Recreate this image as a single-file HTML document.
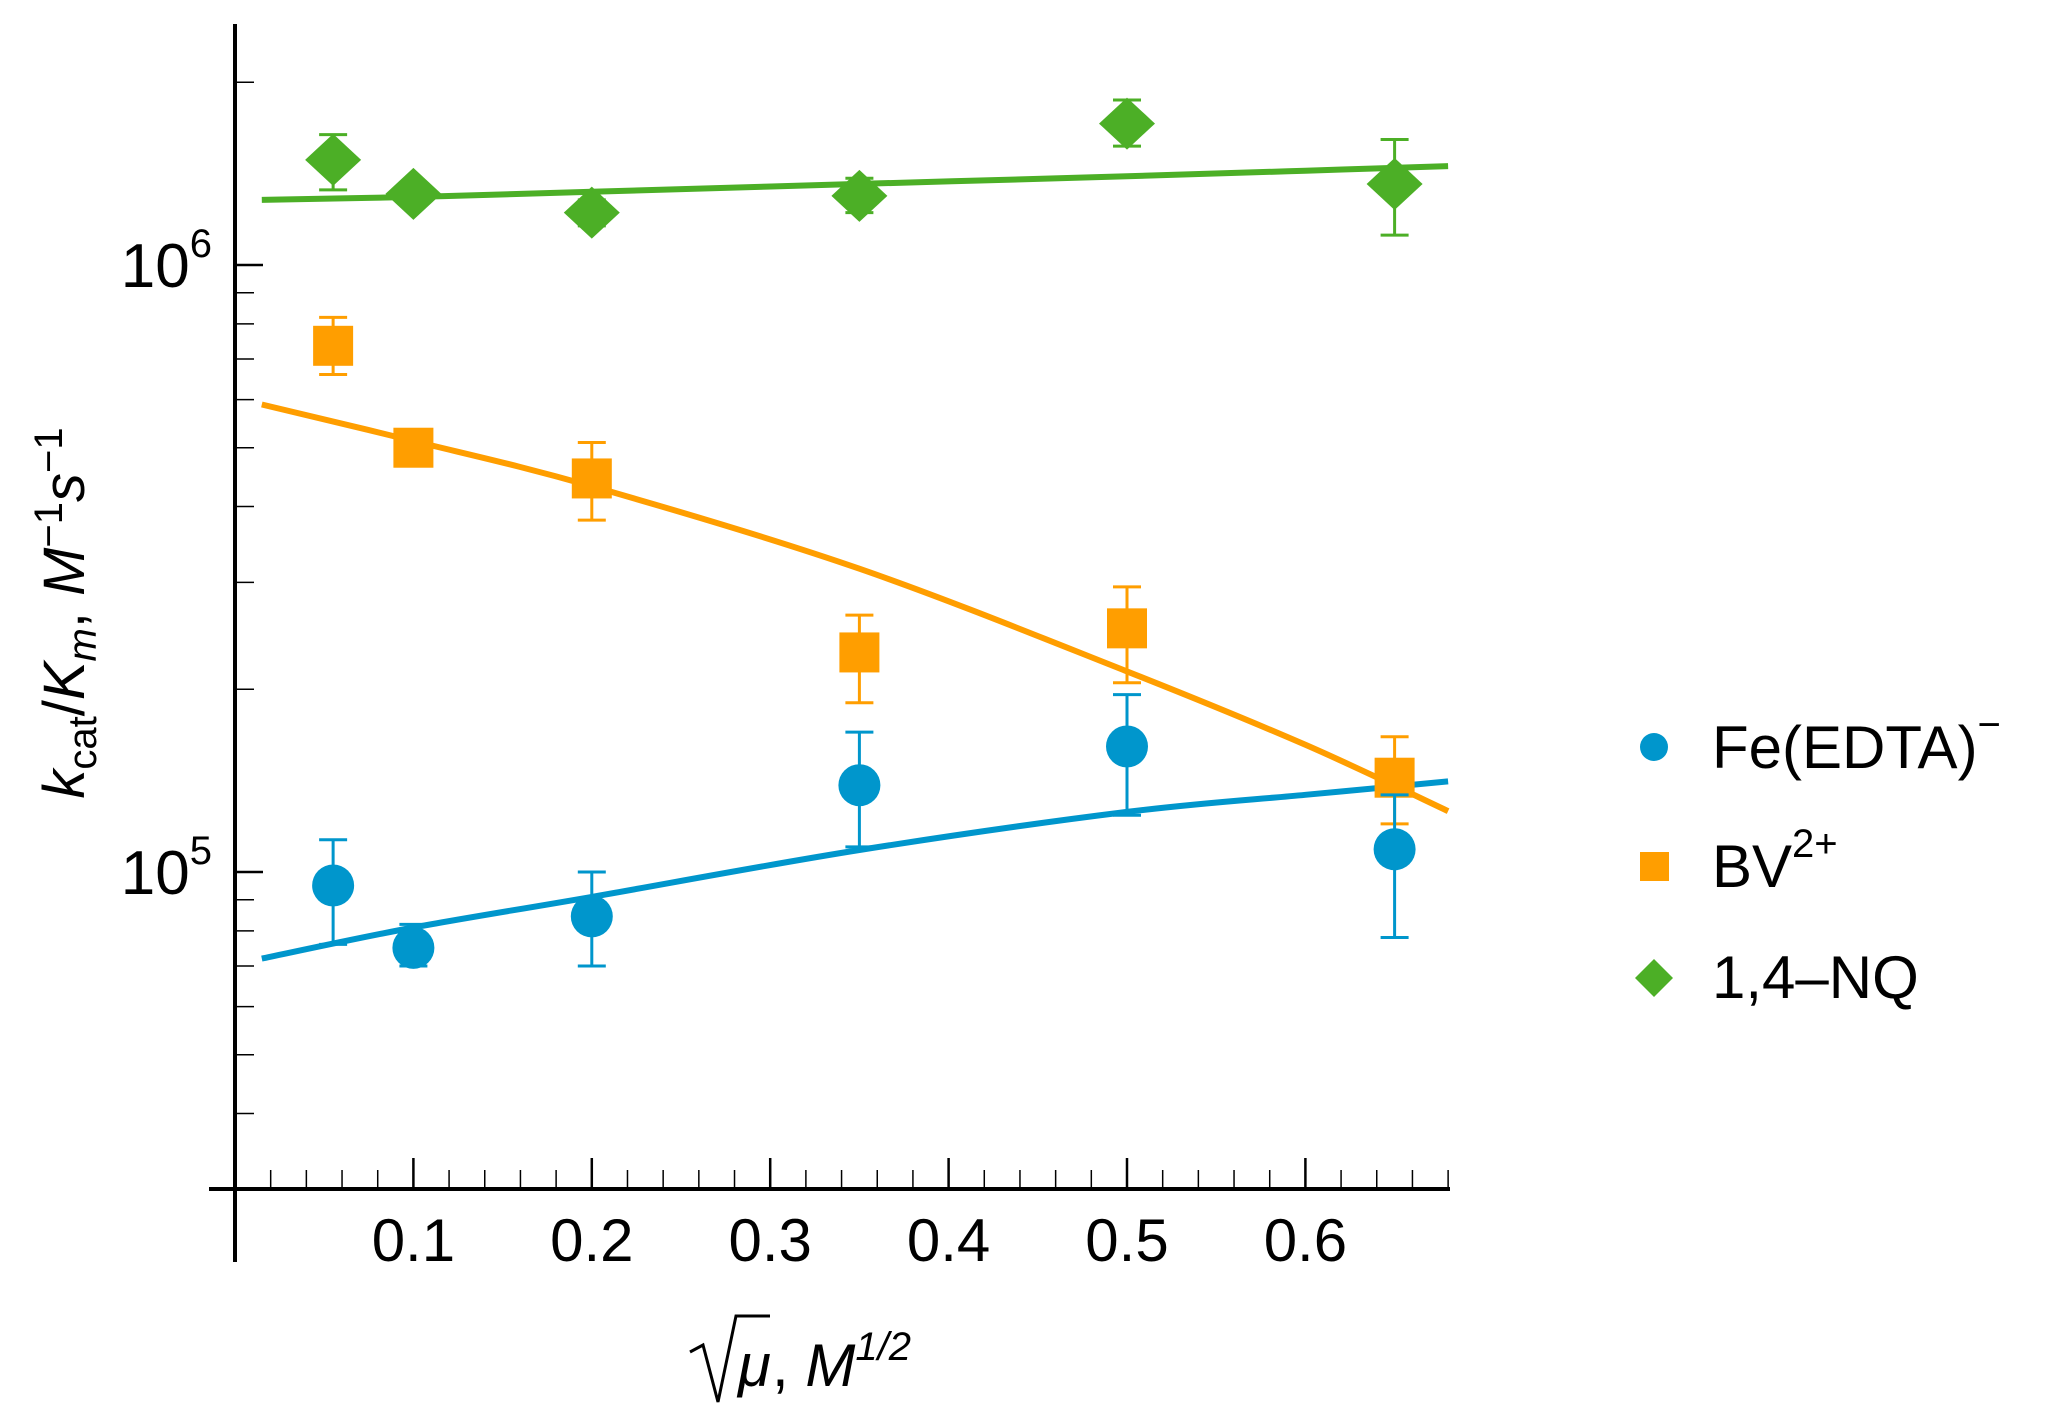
<!DOCTYPE html>
<html><head><meta charset="utf-8"><style>
html,body{margin:0;padding:0;background:#fff;}
svg{display:block;font-family:"Liberation Sans",sans-serif;}
</style></head><body>
<svg id="chart" width="2045" height="1422" viewBox="0 0 2045 1422">
<g id="axes"></g>
<g id="curves"></g>
<g id="points"></g>
<text transform="translate(84,613) rotate(-90)" text-anchor="middle" font-size="58"><tspan font-style="italic">k</tspan><tspan font-size="40" dy="12">cat</tspan><tspan dy="-12">/</tspan><tspan font-style="italic">K</tspan><tspan font-size="40" font-style="italic" dy="12">m</tspan><tspan dy="-12">, </tspan><tspan font-style="italic">M</tspan><tspan font-size="40" dy="-22">−1</tspan><tspan font-style="italic" dy="22">s</tspan><tspan font-size="40" dy="-22">−1</tspan></text>
<g>
<path d="M690 1352 L703 1345 L718 1402 L736 1316 L770 1316" fill="none" stroke="#000" stroke-width="3"/>
<text x="738" y="1386" font-size="60" font-style="italic">μ</text>
<text x="772" y="1386" font-size="60">, <tspan font-style="italic">M</tspan><tspan font-size="40" font-style="italic" dy="-26">1/2</tspan></text>
</g>
<g>
<g><circle cx="1654" cy="747" r="14" fill="#0096CC"/><text x="1712" y="768" font-size="60">Fe(EDTA)<tspan font-size="40" dy="-30">−</tspan></text></g>
<g><rect x="1640" y="852" width="29" height="29" fill="#FF9E00"/><text x="1712" y="887" font-size="60">BV<tspan font-size="40" dy="-30">2+</tspan></text></g>
<g><path d="M1654 959 L1673 978 L1654 997 L1635 978 Z" fill="#4CAF26"/><text x="1712" y="998" font-size="60">1,4–NQ</text></g>
</g>
</svg>
<script>
// data
const xValues = [0.055, 0.1, 0.2, 0.35, 0.5, 0.65];
const feY = [9.5e4, 7.5e4, 8.45e4, 1.39e5, 1.61e5, 1.09e5];
const feLo = [7.6e4, 7.0e4, 7.0e4, 1.10e5, 1.24e5, 7.8e4];
const feHi = [1.13e5, 8.2e4, 1.0e5, 1.7e5, 1.96e5, 1.34e5];
const bvY = [7.36e5, 5.0e5, 4.45e5, 2.3e5, 2.52e5, 1.43e5];
const bvLo = [6.6e5, 4.85e5, 3.8e5, 1.9e5, 2.05e5, 1.2e5];
const bvHi = [8.2e5, 5.15e5, 5.1e5, 2.65e5, 2.95e5, 1.67e5];
const nqY = [1.49e6, 1.31e6, 1.22e6, 1.30e6, 1.71e6, 1.36e6];
const nqLo = [1.33e6, 1.27e6, 1.16e6, 1.22e6, 1.57e6, 1.12e6];
const nqHi = [1.64e6, 1.35e6, 1.28e6, 1.39e6, 1.87e6, 1.61e6];
const fitX = [0.015, 0.1, 0.2, 0.35, 0.5, 0.6, 0.68];
const feFit = [7.2e4, 8.1e4, 9.1e4, 1.087e5, 1.256e5, 1.34e5, 1.41e5];
const bvFit = [5.89e5, 5.13e5, 4.32e5, 3.16e5, 2.14e5, 1.62e5, 1.26e5];
const nqFit = [1.28e6, 1.295e6, 1.32e6, 1.36e6, 1.40e6, 1.43e6, 1.455e6];
const xTicks = ['0.1','0.2','0.3','0.4','0.5','0.6'];
const yMajor = [1e5, 1e6];
const yMinor = [4e4,5e4,6e4,7e4,8e4,9e4,2e5,3e5,4e5,5e5,6e5,7e5,8e5,9e5,2e6];

const NS = 'http://www.w3.org/2000/svg';
const X0 = 235, XS = 1784;
const Y6 = 265, DEC = 607;
function sx(v){ return X0 + v * XS; }
function sy(v){ return Y6 - (Math.log10(v) - 6) * DEC; }
function mk(tag, attrs, parent){ const e = document.createElementNS(NS, tag); for (const k in attrs) e.setAttribute(k, attrs[k]); parent.appendChild(e); return e; }

const axes = document.getElementById('axes');
let e;
e = mk('line', {x1:209, y1:1189, x2:1450, y2:1189, stroke:'#000', 'stroke-width':4}, axes);


e = mk('line', {x1:235, y1:24, x2:235, y2:1262, stroke:'#000', 'stroke-width':4}, axes);


for (let i = 1; i <= 34; i++) {
  const v = i * 0.02;
  const isMajor = (i % 5 === 0);
  const xx = sx(v);
  e = mk('line', {x1:xx, y1:1189, x2:xx, y2:isMajor ? 1158 : 1170, stroke:'#000', 'stroke-width':isMajor ? 2.5 : 1.5}, axes);
  
  
}
xTicks.forEach(function(t){
  e = mk('text', {x:sx(parseFloat(t)), y:1261, 'text-anchor':'middle', 'font-size':60}, axes);
  e.textContent = t;
  
  
});
yMajor.forEach(function(v){
  const yy = sy(v);
  e = mk('line', {x1:235, y1:yy, x2:263, y2:yy, stroke:'#000', 'stroke-width':2.5}, axes);
  
  
  e = mk('text', {x:212, y:yy + 22, 'text-anchor':'end', 'font-size':62}, axes);
  const ex = Math.round(Math.log10(v));
  e.innerHTML = '10<tspan font-size="40" dy="-30">' + ex + '</tspan>';
  
  
});
yMinor.forEach(function(v){
  const yy = sy(v);
  e = mk('line', {x1:235, y1:yy, x2:254, y2:yy, stroke:'#000', 'stroke-width':1.5}, axes);
  
  
});

const curves = document.getElementById('curves');
function drawCurve(vals, color, name){
  const P = fitX.map(function(x, i){ return [sx(x), sy(vals[i])]; });
  let d = 'M' + P[0][0].toFixed(1) + ' ' + P[0][1].toFixed(1);
  for (let i = 0; i < P.length - 1; i++) {
    const p0 = P[Math.max(0, i - 1)], p1 = P[i], p2 = P[i + 1], p3 = P[Math.min(P.length - 1, i + 2)];
    const c1 = [p1[0] + (p2[0] - p0[0]) / 6, p1[1] + (p2[1] - p0[1]) / 6];
    const c2 = [p2[0] - (p3[0] - p1[0]) / 6, p2[1] - (p3[1] - p1[1]) / 6];
    d += ' C' + c1[0].toFixed(1) + ' ' + c1[1].toFixed(1) + ' ' + c2[0].toFixed(1) + ' ' + c2[1].toFixed(1) + ' ' + p2[0].toFixed(1) + ' ' + p2[1].toFixed(1);
  }
  const p = mk('path', {d:d, fill:'none', stroke:color, 'stroke-width':6, 'stroke-linejoin':'round'}, curves);
  
  
}
drawCurve(nqFit, '#4CAF26', 'nq-fit-line');
drawCurve(bvFit, '#FF9E00', 'bv-fit-line');
drawCurve(feFit, '#0096CC', 'fe-fit-line');

const pts = document.getElementById('points');
function drawSeries(ys, lo, hi, color, shape, name){
  xValues.forEach(function(x, i){
    const g = mk('g', {}, pts);
    
    
    const cx = sx(x), cy = sy(ys[i]), y1 = sy(hi[i]), y2 = sy(lo[i]);
    mk('line', {x1:cx, y1:y1, x2:cx, y2:y2, stroke:color, 'stroke-width':3}, g);
    mk('line', {x1:cx - 14, y1:y1, x2:cx + 14, y2:y1, stroke:color, 'stroke-width':3}, g);
    mk('line', {x1:cx - 14, y1:y2, x2:cx + 14, y2:y2, stroke:color, 'stroke-width':3}, g);
    if (shape === 'circle') mk('circle', {cx:cx, cy:cy, r:21, fill:color}, g);
    else if (shape === 'square') mk('rect', {x:cx - 20, y:cy - 20, width:40, height:40, fill:color}, g);
    else mk('path', {d:'M' + cx + ' ' + (cy - 26) + ' L' + (cx + 28) + ' ' + cy + ' L' + cx + ' ' + (cy + 26) + ' L' + (cx - 28) + ' ' + cy + ' Z', fill:color}, g);
  });
}
drawSeries(nqY, nqLo, nqHi, '#4CAF26', 'diamond', 'nq');
drawSeries(bvY, bvLo, bvHi, '#FF9E00', 'square', 'bv');
drawSeries(feY, feLo, feHi, '#0096CC', 'circle', 'fe');
</script>
</body></html>
